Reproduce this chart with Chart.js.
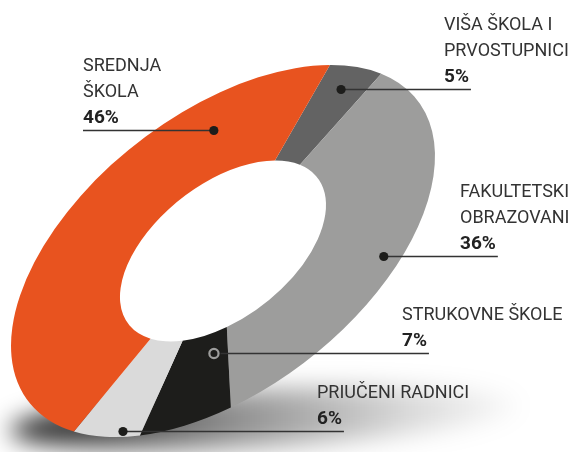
<!DOCTYPE html>
<html>
<head>
<meta charset="utf-8">
<script src="https://cdn.jsdelivr.net/npm/chart.js@4/dist/chart.umd.min.js"></script>
<style>
  html, body { margin: 0; padding: 0; background: #ffffff; }
  #wrap { width: 578px; height: 452px; position: relative; }
</style>
</head>
<body>
<div id="wrap"><canvas id="c" width="578" height="452"></canvas></div>
<script>
// ---------- DATA ----------
const categories = [
  ['VIŠA ŠKOLA I', 'PRVOSTUPNICI'],
  ['FAKULTETSKI', 'OBRAZOVANI'],
  ['STRUKOVNE ŠKOLE'],
  ['PRIUČENI RADNICI'],
  ['SREDNJA', 'ŠKOLA']
];
const shares = [5, 36, 7, 6, 46];
const shareLabels = ['5%', '36%', '7%', '6%', '46%'];

// ---------- STYLE / LAYOUT ----------
const sliceColors = ['#636363', '#9d9d9c', '#1d1d1b', '#dadada', '#e8531f'];
// tilted-ellipse projection of the ring
const ELL = { cx: 223, cy: 251, a: 246, b: 138, tilt: 37.8 * Math.PI / 180 };
// anchor of each label inside its slice: [fraction of slice angle, fraction of ring width]
const anchorFrac = [[0.494, 0.77], [0.571, 0.80], [0.242, 0.25], [0.28, 0.94], [0.798, 0.576]];
const markerStyle = ['dot', 'dot', 'ring', 'dot', 'dot'];
const labelTextX = [444, 460, 402, 317, 83];
const lineSide = ['right', 'right', 'right', 'right', 'left'];

function project(R, angle, r) {
  const px = r * Math.cos(angle) / R * ELL.a;
  const py = r * Math.sin(angle) / R * ELL.b;
  const c = Math.cos(ELL.tilt), s = Math.sin(ELL.tilt);
  return { x: ELL.cx + px * c + py * s, y: ELL.cy - px * s + py * c };
}

const ellipsePlugin = {
  id: 'ellipse',
  beforeDatasetsDraw(chart) {
    const ctx = chart.ctx;
    // floor shadow
    ctx.save();
    ctx.filter = 'blur(12px)';
    const g = ctx.createLinearGradient(15, 0, 540, 0);
    g.addColorStop(0, 'rgba(0,0,0,0.9)');
    g.addColorStop(0.4, 'rgba(0,0,0,0.45)');
    g.addColorStop(0.75, 'rgba(0,0,0,0.15)');
    g.addColorStop(1, 'rgba(0,0,0,0)');
    ctx.fillStyle = g;
    ctx.beginPath();
    ctx.ellipse(265, 418, 255, 28, -0.05, 0, Math.PI * 2);
    ctx.fill();
    ctx.restore();

    const el = chart.getDatasetMeta(0).data[0];
    ctx.save();
    ctx.translate(ELL.cx, ELL.cy);
    ctx.rotate(-ELL.tilt);
    ctx.scale(ELL.a / el.outerRadius, ELL.b / el.outerRadius);
    ctx.translate(-el.x, -el.y);
  },
  afterDatasetsDraw(chart) {
    chart.ctx.restore();
  },
  afterDraw(chart) {
    const ctx = chart.ctx;
    const meta = chart.getDatasetMeta(0);
    meta.data.forEach((arc, i) => {
      const [fa, fr] = anchorFrac[i];
      const ang = arc.startAngle + fa * (arc.endAngle - arc.startAngle);
      const r = arc.innerRadius + fr * (arc.outerRadius - arc.innerRadius);
      const p = project(arc.outerRadius, ang, r);
      const dy = Math.round(p.y) + 0.5;
      const tx = labelTextX[i];

      ctx.font = '700 19px Roboto';
      const pw = ctx.measureText(shareLabels[i]).width;
      const endX = lineSide[i] === 'left' ? tx : tx + pw + 2;

      // leader line
      ctx.strokeStyle = '#333333';
      ctx.lineWidth = 1.4;
      ctx.beginPath();
      ctx.moveTo(p.x, dy);
      ctx.lineTo(endX, dy);
      ctx.stroke();

      // marker
      if (markerStyle[i] === 'ring') {
        ctx.fillStyle = sliceColors[i];
        ctx.beginPath(); ctx.arc(p.x, dy, 6.5, 0, Math.PI * 2); ctx.fill();
        ctx.strokeStyle = '#9d9d9c';
        ctx.lineWidth = 2.2;
        ctx.beginPath(); ctx.arc(p.x, dy, 4.6, 0, Math.PI * 2); ctx.stroke();
      } else {
        ctx.fillStyle = '#1d1d1b';
        ctx.beginPath(); ctx.arc(p.x, dy, 4.6, 0, Math.PI * 2); ctx.fill();
      }

      // texts
      ctx.textAlign = 'left';
      ctx.textBaseline = 'alphabetic';
      ctx.fillStyle = '#222222';
      ctx.font = '700 19px Roboto';
      let by = dy - 8;
      ctx.fillText(shareLabels[i], tx, by);
      ctx.font = '400 18px Roboto';
      ctx.fillStyle = '#333333';
      const lines = categories[i];
      for (let k = lines.length - 1; k >= 0; k--) {
        by -= 26;
        ctx.fillText(lines[k], tx, by);
      }
    });
  }
};

new Chart(document.getElementById('c'), {
  type: 'doughnut',
  data: {
    labels: categories,
    datasets: [{
      data: shares,
      backgroundColor: sliceColors,
      borderWidth: 0,
      hoverOffset: 0
    }]
  },
  options: {
    responsive: false,
    devicePixelRatio: 1,
    animation: false,
    events: [],
    cutout: '48.6%',
    rotation: 53.8,
    layout: { padding: 0 },
    plugins: {
      legend: { display: false },
      tooltip: { enabled: false },
      title: { display: false }
    }
  },
  plugins: [ellipsePlugin]
});
</script>
</body>
</html>
